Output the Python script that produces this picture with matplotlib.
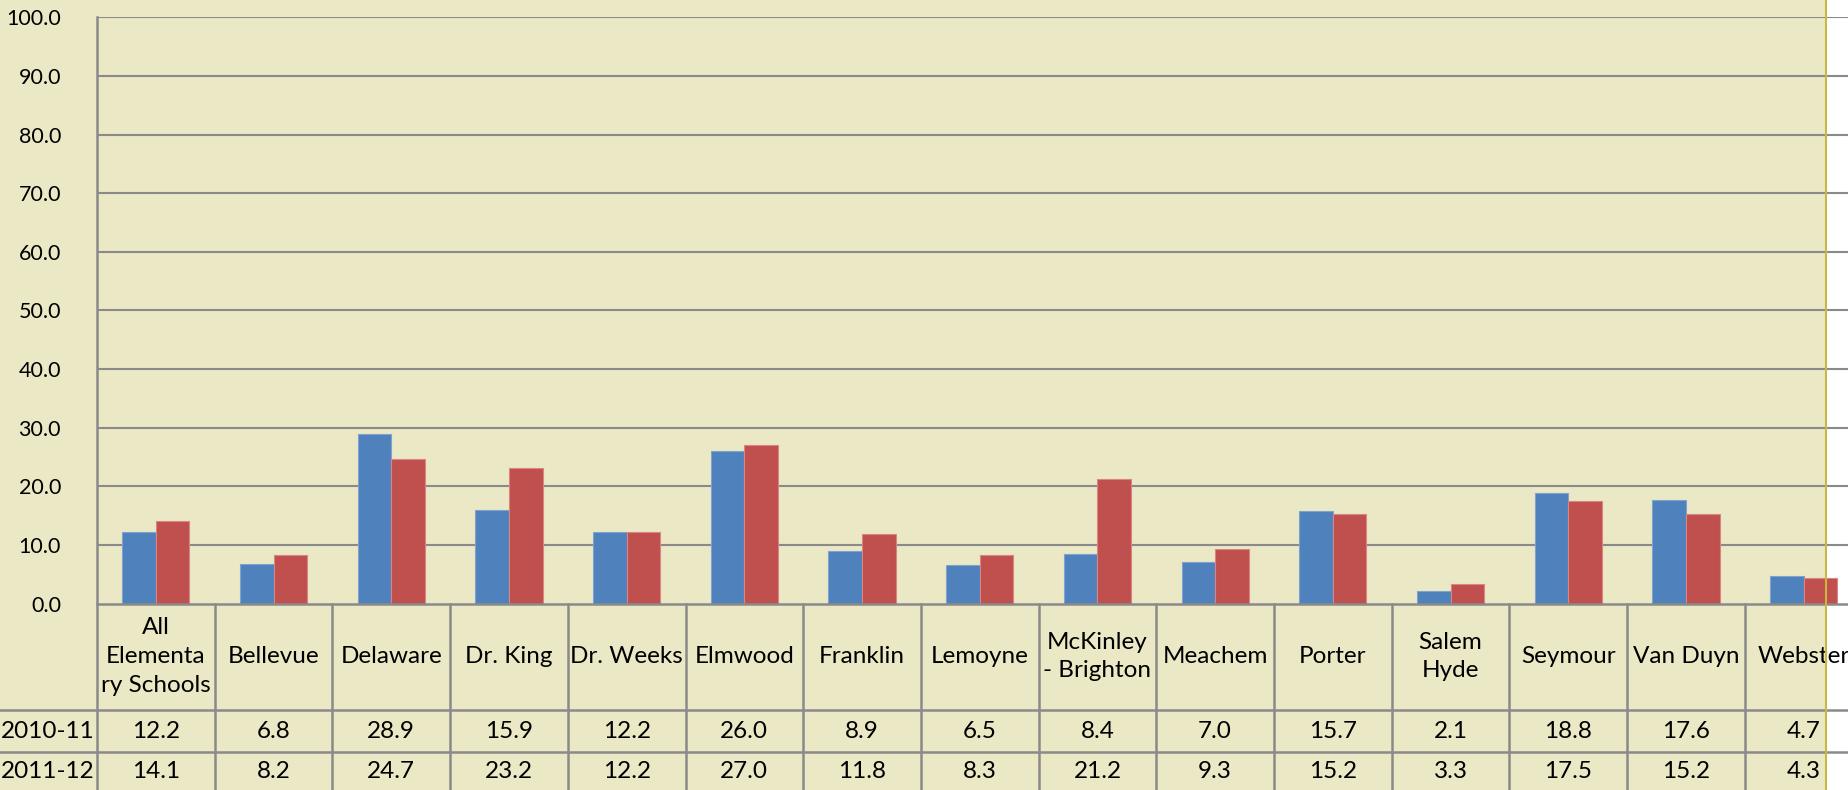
import matplotlib
matplotlib.use('Agg')
import matplotlib.pyplot as plt
import numpy as np
from matplotlib.transforms import blended_transform_factory
from matplotlib.lines import Line2D
from matplotlib.patches import Rectangle

schools = ['All\nElementa\nry Schools', 'Bellevue', 'Delaware', 'Dr. King', 'Dr. Weeks',
           'Elmwood', 'Franklin', 'Lemoyne', 'McKinley\n- Brighton', 'Meachem',
           'Porter', 'Salem\nHyde', 'Seymour', 'Van Duyn', 'Webster']
series_names = ['2010-11', '2011-12']
y2010 = [12.2, 6.8, 28.9, 15.9, 12.2, 26.0, 8.9, 6.5, 8.4, 7.0, 15.7, 2.1, 18.8, 17.6, 4.7]
y2011 = [14.1, 8.2, 24.7, 23.2, 12.2, 27.0, 11.8, 8.3, 21.2, 9.3, 15.2, 3.3, 17.5, 15.2, 4.3]
yticks = np.arange(0, 101, 10)

plt.rcParams['font.family'] = ['Lato', 'DejaVu Sans']

W, H = 1849, 790
BG = '#EBE8C6'
GRID = '#8A8A8A'
colors = ['#4F81BD', '#C0504D']
edges = ['#7FA3CF', '#D98583']
FS = 17.5

fig = plt.figure(figsize=(W / 100, H / 100), dpi=100, facecolor='white')
fig.patches.append(Rectangle((0, 0), 1826 / W, 1, transform=fig.transFigure,
                             facecolor=BG, edgecolor='none', zorder=-10))

def fy(py):
    return 1 - py / H

x0, y0 = 97, 603.5
cw = 117.7
ax = fig.add_axes([x0 / W, fy(y0), 15 * cw / W, (y0 - 17.3) / H])
ax.set_facecolor('none')
ax.set_xlim(-0.5, 14.5)
ax.set_ylim(0, 100)
for s in ax.spines.values():
    s.set_visible(False)

for v in yticks[1:]:
    ax.axhline(v, color=GRID, lw=1.5, zorder=1)
ax.axhline(0, color=GRID, lw=1.8, zorder=3, clip_on=False)

x = np.arange(len(schools))
bw = 1 / 3.5
for i, vals in enumerate([y2010, y2011]):
    ax.bar(x + (i - 0.5) * bw, vals, width=bw, color=colors[i], edgecolor=edges[i],
           linewidth=0.8, zorder=2)

ax.set_xticks([])
ax.set_yticks(yticks)
ax.set_yticklabels([f'{v:.1f}' for v in yticks])
ax.tick_params(axis='y', length=0, pad=26, labelsize=15.5)

# data table below the plot
tr = blended_transform_factory(ax.transData, fig.transFigure)
fig.add_artist(Line2D([x0 / W, x0 / W], [0, fy(17.3)], transform=fig.transFigure,
                      color=GRID, lw=1.8))
for k in range(1, len(schools) + 1):
    fig.add_artist(Line2D([k - 0.5, k - 0.5], [0, fy(y0)], transform=tr,
                          color=GRID, lw=1.8))
for py in [710, 752]:
    fig.add_artist(Line2D([0, 1], [fy(py), fy(py)], transform=fig.transFigure,
                          color=GRID, lw=1.8))

for i, name in enumerate(schools):
    ax.text(i, fy(656.5), name, transform=tr, ha='center', va='center',
            multialignment='center', fontsize=FS, linespacing=1.45, clip_on=False)
    ax.text(i, fy(731.5), f'{y2010[i]:.1f}', transform=tr, ha='center', va='center',
            fontsize=FS, clip_on=False)
    ax.text(i, fy(772), f'{y2011[i]:.1f}', transform=tr, ha='center', va='center',
            fontsize=FS, clip_on=False)

for name, py in zip(series_names, [731.5, 772]):
    fig.text(1 / W, fy(py), name, ha='left', va='center', fontsize=FS)

fig.add_artist(Line2D([1826 / W, 1826 / W], [0, 1], transform=fig.transFigure,
                      color='#C9B840', lw=1.5))

fig.savefig('out.png', dpi=100, facecolor=fig.get_facecolor())
